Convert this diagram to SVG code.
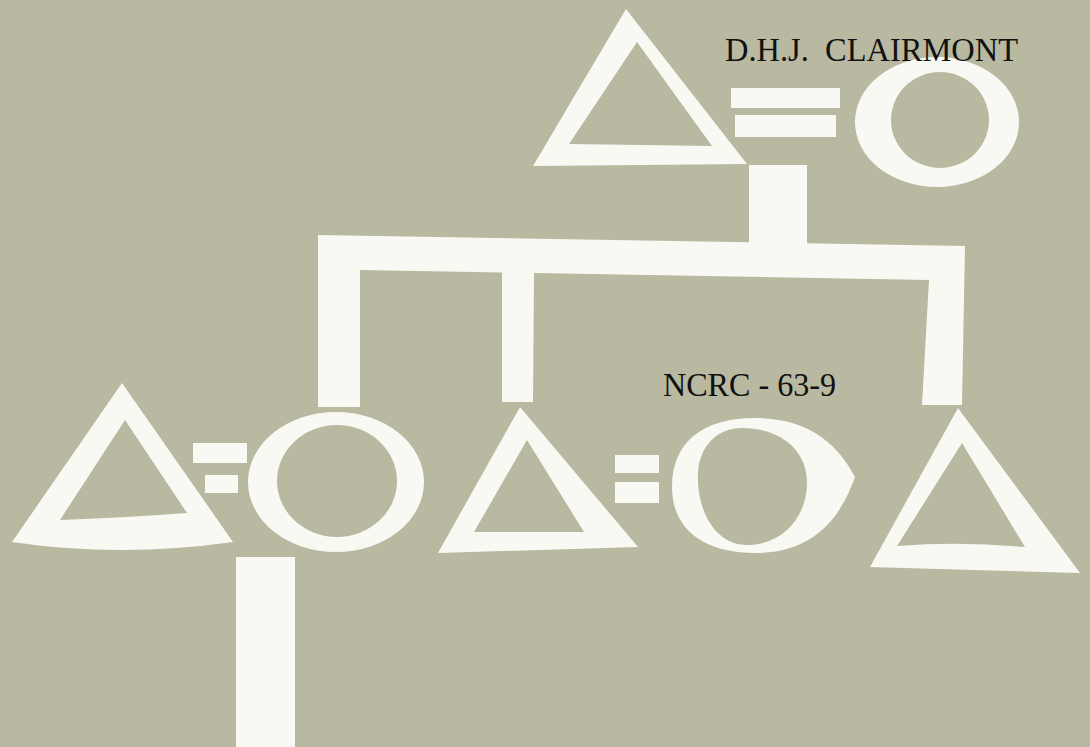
<svg xmlns="http://www.w3.org/2000/svg" width="1090" height="747" viewBox="0 0 1090 747">
<style>
.fg{fill:#f9f9f3;fill-rule:evenodd}
.lbl{font-family:"Liberation Serif","Times New Roman",serif;fill:#111;font-size:34px;white-space:pre}
</style>
<rect width="1090" height="747" fill="#b9b8a0"/>
<g id="connectors">
<rect class="fg" x="749" y="165" width="58" height="80"/>
<path class="fg" d="M318,235 L965,246 L962,405 L922,405 L929,280 L534,273 L533,402 L502,402 L502,272.5 L360,270 L360,407 L318,407 Z"/>
<rect class="fg" x="236" y="557" width="59" height="190"/>
</g>
<g id="father">
<path class="fg" d="M626,9 L747,164 L533,166 Z M637,42 L569,144 L712,146 Z"/>
</g>
<g id="marriage-top">
<rect class="fg" x="731" y="88" width="109" height="20"/>
<rect class="fg" x="735" y="115" width="101" height="22"/>
</g>
<g id="mother">
<path class="fg" d="M855,122 A82,65 0 1 0 1019,122 A82,65 0 1 0 855,122 Z M891,120 A49,48 0 1 1 989,120 A49,48 0 1 1 891,120 Z"/>
</g>
<g id="son1">
<path class="fg" d="M122,383 L233,542 Q120,558 12,542 Z M125,420 L187,513 Q120,518 60,520 Z"/>
</g>
<g id="marriage-left">
<rect class="fg" x="193" y="443" width="54" height="20"/>
<rect class="fg" x="205" y="475" width="33" height="18"/>
</g>
<g id="wife1">
<path class="fg" d="M248,482 A88,70 0 1 0 424,482 A88,70 0 1 0 248,482 Z M277,481 A60,56 0 1 1 397,481 A60,56 0 1 1 277,481 Z"/>
</g>
<g id="son2">
<path class="fg" d="M520,407 L638,547 L438,553 Z M527,440 L584,532 L474,532 Z"/>
</g>
<g id="marriage-mid">
<rect class="fg" x="615" y="455" width="44" height="18"/>
<rect class="fg" x="615" y="482" width="44" height="21"/>
</g>
<g id="wife2">
<path class="fg" d="M672,487 C672,440 705,418 755,418 C810,418 838,445 855,477 C840,520 812,553 755,553 C705,553 672,530 672,487 Z M698,472 C700,445 718,428 742,428 C780,428 807,450 807,482 C807,520 780,545 747,545 C715,545 696,510 698,472 Z"/>
</g>
<g id="son3">
<path class="fg" d="M958,408 L1080,573 L870,567 Z M962,443 L1025,547 Q960,541 897,546 Z"/>
</g>
<g id="title">
<text class="lbl" x="725" y="61" textLength="293" lengthAdjust="spacingAndGlyphs" xml:space="preserve">D.H.J.  CLAIRMONT</text>
</g>
<g id="code">
<text class="lbl" x="663" y="396" textLength="173" lengthAdjust="spacingAndGlyphs">NCRC - 63-9</text>
</g>
</svg>
